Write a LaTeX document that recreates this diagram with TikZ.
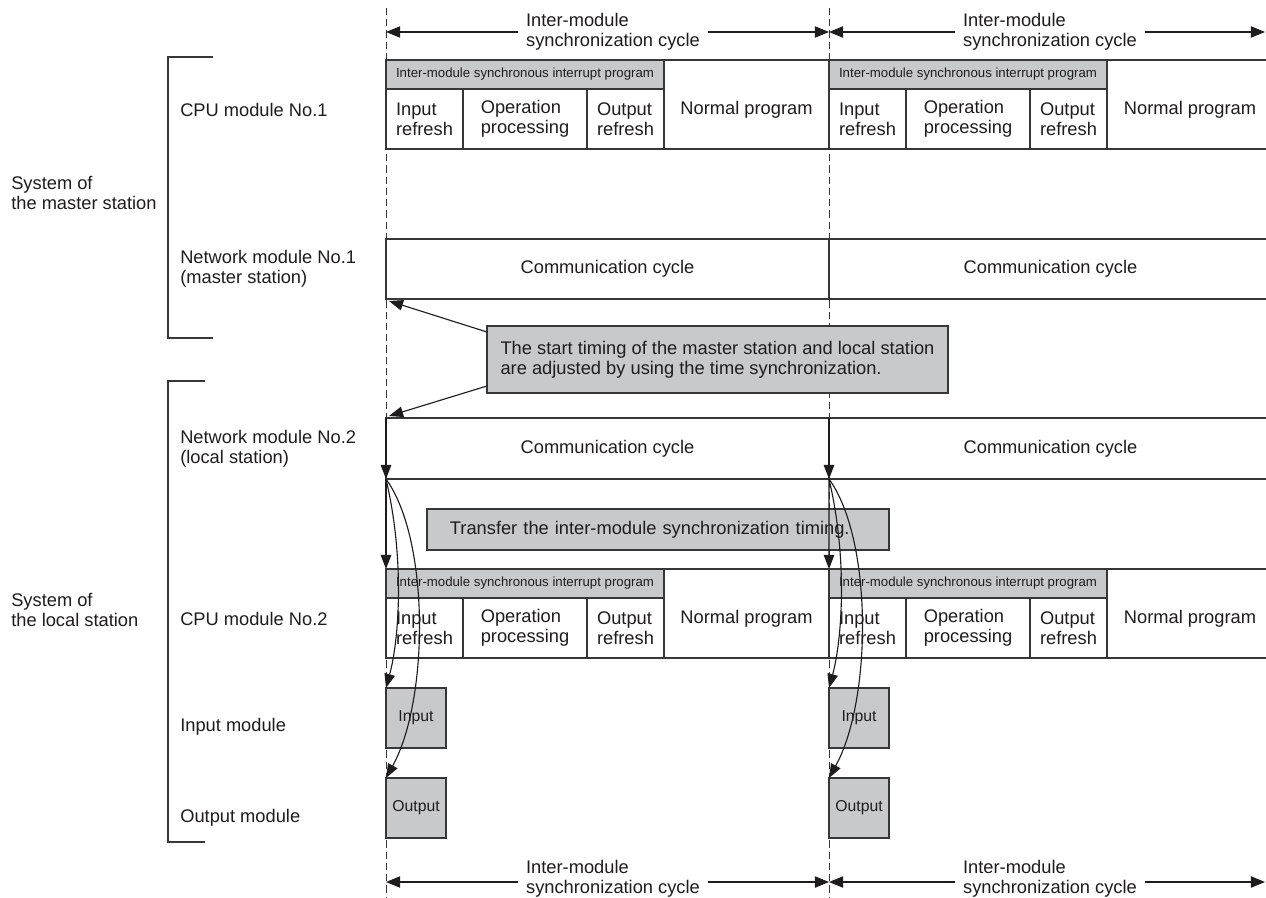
\documentclass[tikz,border=0pt]{standalone}
\usepackage{fontspec}
\setmainfont{Liberation Sans}
\usepackage{tikz}
\usetikzlibrary{arrows.meta, positioning, calc}
\definecolor{linegray}{RGB}{55,55,55}
\definecolor{boxgray}{RGB}{200,201,203}
\definecolor{txtdark}{RGB}{30,28,29}
\tikzset{
  cell/.style={rectangle, draw=linegray, line width=0.85pt, inner sep=0pt,
    outer sep=0pt, align=left, font=\fontsize{13}{14}\selectfont, text=txtdark},
  hdrcell/.style={cell, fill=boxgray, font=\fontsize{9.4}{11}\selectfont},
  nrmcell/.style={cell, text height=13.6pt, text depth=0pt},
  iobox/.style={cell, fill=boxgray, font=\fontsize{11.2}{13}\selectfont},
  note/.style={cell, fill=boxgray},
  lbl/.style={inner sep=0pt, align=left, font=\fontsize{13}{14}\selectfont, text=txtdark},
  cyclbl/.style={lbl, fill=white, inner xsep=5.7pt, inner ysep=1pt},
  wd/.style={minimum width=#1*0.025cm},
  ht/.style={minimum height=#1*0.025cm},
  arrow/.style={-{Triangle[length=10pt,width=7.5pt]}, line width=0.8pt, color=txtdark},
  dblarrow/.style={{Triangle[length=10pt,width=8pt]}-{Triangle[length=10pt,width=8pt]},
    line width=0.8pt, color=txtdark},
  syncline/.style={linegray, line width=0.7pt, dash pattern=on 5pt off 3pt},
  bracket/.style={linegray, line width=0.85pt}
}

\begin{document}
\begin{tikzpicture}[x=0.025cm, y=-0.025cm]
  \useasboundingbox (0,0) rectangle (1266,898);
  % Sync timing lines
  \coordinate (sA) at (386.5,8);
  \coordinate (sB) at (829.5,8);
  \draw[syncline] (sA) -- (sA |- 0,898);
  \draw[syncline] (sB) -- (sB |- 0,898);
  % Cycle arrows (top)
  \coordinate (tA) at (386,32);
  \coordinate (tB) at (829,32);
  \coordinate (tC) at (1265,32);
  \draw[dblarrow] (tA) -- (tB);
  \draw[dblarrow] (tB) -- (tC);
  \node[cyclbl] (cycT1) at (613,32) {Inter-module\\synchronization cycle};
  \node[cyclbl] (cycT2) at (1050,32) {Inter-module\\synchronization cycle};
  % Cycle arrows (bottom)
  \coordinate (bA) at (386,882);
  \coordinate (bB) at (829,882);
  \coordinate (bC) at (1265,882);
  \draw[dblarrow] (bA) -- (bB);
  \draw[dblarrow] (bB) -- (bC);
  \node[cyclbl] (cycB1) at (613,879) {Inter-module\\synchronization cycle};
  \node[cyclbl] (cycB2) at (1050,879) {Inter-module\\synchronization cycle};
  % Brackets and system labels
  \draw[bracket] (213,57) -- (168,57) -- (168,338) -- (213,338);
  \draw[bracket] (205,381) -- (168,381) -- (168,842) -- (205,842);
  \node[lbl, anchor=west] (sysM) at (11,193) {System of\\the master station};
  \node[lbl, anchor=west] (sysL) at (11,610) {System of\\the local station};
  % Row labels
  \node[lbl, anchor=west] (cpu1) at (180,110) {CPU module No.1};
  \node[lbl, anchor=west] (net1) at (180,269) {Network module No.1\\(master station)};
  \node[lbl, anchor=west] (net2) at (180,449) {Network module No.2\\(local station)};
  \node[lbl, anchor=west] (cpu2) at (180,619) {CPU module No.2};
  \node[lbl, anchor=west] (inmod) at (180,727) {Input module};
  \node[lbl, anchor=west] (outmod) at (180,818) {Output module};
  % CPU module No.1, cycle A
  \node[hdrcell, wd=278, ht=29, anchor=north west] (c1hA) at (386,60) {Inter-module synchronous interrupt program};
  \node[cell, wd=77, ht=60, anchor=north west] (c1inA) at (c1hA.south west) {Input\\refresh};
  \node[cell, wd=124, ht=60, right=0pt of c1inA] (c1opA) {Operation\\processing};
  \node[cell, wd=77, ht=60, right=0pt of c1opA] (c1outA) {Output\\refresh};
  \node[nrmcell, wd=165, ht=89, anchor=north west] (c1nrmA) at (c1hA.north east) {Normal program};
  % CPU module No.1, cycle B
  \node[hdrcell, wd=278, ht=29, anchor=north west] (c1hB) at (829,60) {Inter-module synchronous interrupt program};
  \node[cell, wd=77, ht=60, anchor=north west] (c1inB) at (c1hB.south west) {Input\\refresh};
  \node[cell, wd=124, ht=60, right=0pt of c1inB] (c1opB) {Operation\\processing};
  \node[cell, wd=77, ht=60, right=0pt of c1opB] (c1outB) {Output\\refresh};
  \node[nrmcell, wd=166, ht=89, anchor=north west] (c1nrmB) at (c1hB.north east) {Normal program};
  % Network modules
  \node[cell, wd=443, ht=60, anchor=north west] (n1A) at (386,239) {Communication cycle};
  \node[cell, wd=443, ht=60, right=0pt of n1A] (n1B) {Communication cycle};
  \node[cell, wd=443, ht=61, anchor=north west] (n2A) at (386,418) {Communication cycle};
  \node[cell, wd=443, ht=61, right=0pt of n2A] (n2B) {Communication cycle};
  % CPU module No.2, cycle A
  \node[hdrcell, wd=278, ht=29, anchor=north west] (c2hA) at (386,569) {Inter-module synchronous interrupt program};
  \node[cell, wd=77, ht=60, anchor=north west] (c2inA) at (c2hA.south west) {Input\\refresh};
  \node[cell, wd=124, ht=60, right=0pt of c2inA] (c2opA) {Operation\\processing};
  \node[cell, wd=77, ht=60, right=0pt of c2opA] (c2outA) {Output\\refresh};
  \node[nrmcell, wd=165, ht=89, anchor=north west] (c2nrmA) at (c2hA.north east) {Normal program};
  % CPU module No.2, cycle B
  \node[hdrcell, wd=278, ht=29, anchor=north west] (c2hB) at (829,569) {Inter-module synchronous interrupt program};
  \node[cell, wd=77, ht=60, anchor=north west] (c2inB) at (c2hB.south west) {Input\\refresh};
  \node[cell, wd=124, ht=60, right=0pt of c2inB] (c2opB) {Operation\\processing};
  \node[cell, wd=77, ht=60, right=0pt of c2opB] (c2outB) {Output\\refresh};
  \node[nrmcell, wd=166, ht=89, anchor=north west] (c2nrmB) at (c2hB.north east) {Normal program};
  % Input / output modules
  \node[iobox, wd=60, ht=60, anchor=north west] (inA) at (386,688) {Input};
  \node[iobox, wd=60, ht=60, anchor=north west] (outA) at (386,778) {Output};
  \node[iobox, wd=60, ht=60, anchor=north west] (inB) at (829,688) {Input};
  \node[iobox, wd=60, ht=60, anchor=north west] (outB) at (829,778) {Output};
  % Notes
  \node[note, wd=461, ht=67, anchor=north west] (noteA) at (487,326)
    {The start timing of the master station and local station\\are adjusted by using the time synchronization.};
  \node[note, wd=462, ht=41, text width=10.4cm, anchor=north west] (noteB) at (427,509)
    {Transfer the inter-module synchronization timing.};
  \draw[arrow] ($(noteA.north west)+(0,6)$) -- ($(n1A.south west)+(3,2)$);
  \draw[arrow] ($(noteA.south west)+(0,-7)$) -- ($(n2A.north west)+(3,-2)$);
  % Timing arrows
  \draw[arrow] (n2A.north west) -- (n2A.south west);
  \draw[arrow] (n2A.south west) -- (c2hA.north west);
  \draw[arrow] (n2B.north west) -- (n2B.south west);
  \draw[arrow] (n2B.south west) -- (c2hB.north west);
  \draw[arrow] (n2A.south west) .. controls +(19,81) and +(13,-48) .. (inA.north west);
  \draw[arrow] (n2A.south west) .. controls +(44,61) and +(43,-78) .. (outA.north west);
  \draw[arrow] (n2B.south west) .. controls +(19,81) and +(13,-48) .. (inB.north west);
  \draw[arrow] (n2B.south west) .. controls +(44,61) and +(43,-78) .. (outB.north west);
\end{tikzpicture}
\end{document}
